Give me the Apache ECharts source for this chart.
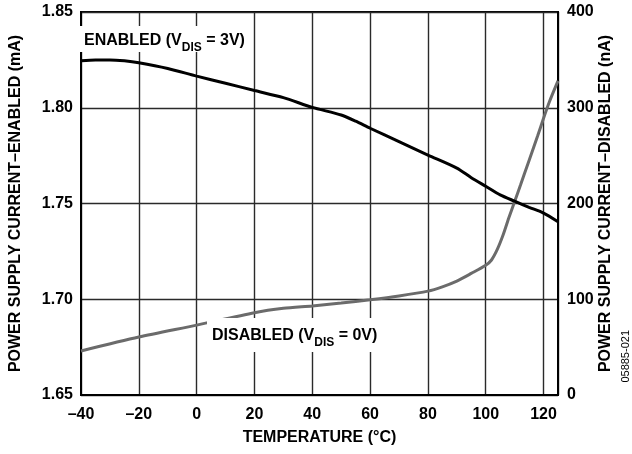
<!DOCTYPE html>
<html>
<head>
<meta charset="utf-8">
<script src="https://cdn.jsdelivr.net/npm/echarts@6.0.0/dist/echarts.min.js"></script>
<style>
html,body{margin:0;padding:0;background:#fff;}
#c{width:632px;height:454px;}
</style>
</head>
<body>
<div id="c"></div>
<script>
const tempsEnabled = [-40,-35,-30,-25,-20,-10,0,10,20,30,40,50,55,60,70,80,90,95,100,105,110,115,120,125];
const enabledMA = [1.8245,1.8250,1.8250,1.8245,1.8235,1.8205,1.8165,1.8128,1.8090,1.8053,1.8002,1.7962,1.7930,1.7893,1.7823,1.7753,1.7685,1.7635,1.7590,1.7545,1.7512,1.7480,1.7450,1.7405];
const tempsDisabled = [-40,-20,0,20,30,40,50,60,70,80,85,90,95,100,102,104,106,108,110,112,115,118,120,122,125];
const disabledNA = [46,60.5,73,86,90.5,93,96,99.5,103.5,108.5,113,119,127,135.5,141,152,167,185,202,219,245,271,289,306,328];

const FONT = "'Liberation Sans', Arial, sans-serif";
const chart = echarts.init(document.getElementById('c'), null, {renderer:'canvas'});

const labelStyle = {fontFamily: FONT, fontWeight: 'bold', fontSize: 16, color: '#000'};

chart.setOption({
  animation: false,
  backgroundColor: '#fff',
  grid: {left: 78, right: 74, top: 12, bottom: 59, show: true, borderColor: '#000', borderWidth: 2, backgroundColor: 'transparent'},
  xAxis: {
    type: 'value', min: -40, max: 125, interval: 20,
    name: 'TEMPERATURE (°C)', nameLocation: 'middle', nameGap: 35, nameMoveOverlap: false,
    nameTextStyle: labelStyle,
    axisLine: {show: true, onZero: false, lineStyle: {color: '#000', width: 2}},
    axisTick: {show: false},
    axisLabel: Object.assign({margin: 12, formatter: v => v < 0 ? '\u2013' + Math.abs(v) : String(v)}, labelStyle),
    splitLine: {show: true, lineStyle: {color: '#2a2a2a', width: 1.4}}
  },
  yAxis: [
    {
      type: 'value', min: 1.65, max: 1.85, interval: 0.05,
      name: 'POWER SUPPLY CURRENT\u2013ENABLED (mA)', nameLocation: 'middle', nameGap: 57, nameRotate: 90, nameMoveOverlap: false,
      nameTextStyle: labelStyle,
      axisLine: {show: true, onZero: false, lineStyle: {color: '#000', width: 2}},
      axisTick: {show: false},
      axisLabel: Object.assign({margin: 8, formatter: v => v.toFixed(2)}, labelStyle),
      splitLine: {show: true, lineStyle: {color: '#2a2a2a', width: 1.4}}
    },
    {
      type: 'value', min: 0, max: 400, interval: 100, position: 'right',
      name: 'POWER SUPPLY CURRENT\u2013DISABLED (nA)', nameLocation: 'middle', nameGap: 40, nameRotate: 90, nameMoveOverlap: false,
      nameTextStyle: labelStyle,
      axisLine: {show: true, onZero: false, lineStyle: {color: '#000', width: 2}},
      axisTick: {show: false},
      axisLabel: Object.assign({margin: 9}, labelStyle),
      splitLine: {show: false}
    }
  ],
  graphic: [
    {
      type: 'text', left: 79, top: 26, z: 10,
      style: {
        text: '{a|ENABLED (V}{s|DIS}{a| = 3V)}',
        backgroundColor: '#fff', padding: [3, 5, 3, 5],
        rich: {
          a: {fontFamily: FONT, fontWeight: 'bold', fontSize: 16, fill: '#000', lineHeight: 20, verticalAlign: 'bottom'},
          s: {fontFamily: FONT, fontWeight: 'bold', fontSize: 12, fill: '#000', lineHeight: 20, verticalAlign: 'bottom', padding: [0,0,-5,0]}
        }
      }
    },
    {
      type: 'text', left: 207, top: 318, z: 10,
      style: {
        text: '{a|DISABLED (V}{s|DIS}{a| = 0V)}',
        backgroundColor: '#fff', padding: [6, 5, 8, 5],
        rich: {
          a: {fontFamily: FONT, fontWeight: 'bold', fontSize: 16, fill: '#000', lineHeight: 20, verticalAlign: 'bottom'},
          s: {fontFamily: FONT, fontWeight: 'bold', fontSize: 12, fill: '#000', lineHeight: 20, verticalAlign: 'bottom', padding: [0,0,-5,0]}
        }
      }
    },
    {
      type: 'text', left: 620, top: 330, rotation: Math.PI / 2, z: 10,
      style: {text: '05885-021', fontFamily: FONT, fontSize: 11, fill: '#000'}
    }
  ],
  series: [
    {
      type: 'line', yAxisIndex: 0, showSymbol: false, smooth: 0.25,
      data: tempsEnabled.map((t, i) => [t, enabledMA[i]]),
      lineStyle: {color: '#000', width: 3}, z: 5
    },
    {
      type: 'line', yAxisIndex: 1, showSymbol: false, smooth: 0.25,
      data: tempsDisabled.map((t, i) => [t, disabledNA[i]]),
      lineStyle: {color: '#6b6b6b', width: 3}, z: 4
    }
  ]
});
</script>
</body>
</html>
